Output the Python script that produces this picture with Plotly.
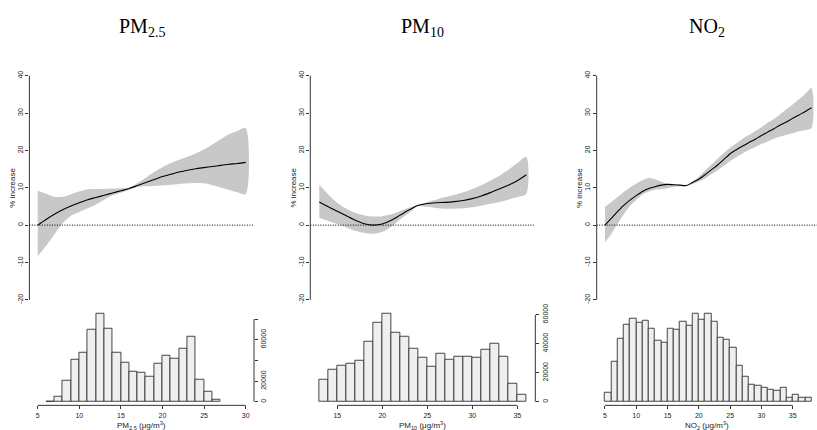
import plotly.graph_objects as go

# ---------------- data ----------------
# exposure-response curves (% increase) with 95% CI
pm25_x = list(range(5, 31))
pm25_fit = [0.0, 1.5, 2.9, 4.1, 5.1, 6.0, 6.8, 7.4, 8.0, 8.6, 9.2, 9.8, 10.6, 11.4, 12.2,
            13.0, 13.6, 14.2, 14.7, 15.1, 15.4, 15.7, 16.0, 16.3, 16.5, 16.8]
pm25_hi = [9.2, 8.4, 7.6, 7.6, 8.3, 9.0, 9.6, 9.7, 9.7, 9.8, 9.9, 10.1, 11.3, 12.7, 14.2,
           15.5, 16.6, 17.5, 18.3, 19.2, 20.3, 21.6, 23.0, 24.3, 25.2, 26.0]
pm25_lo = [-8.3, -5.5, -2.5, 0.5, 2.5, 3.5, 4.5, 5.5, 6.8, 8.0, 8.7, 9.5, 10.2, 10.4, 10.5,
           10.6, 10.8, 11.0, 11.2, 11.3, 11.2, 10.7, 10.1, 9.4, 8.8, 8.3]

pm10_x = list(range(13, 37))
pm10_fit = [6.2, 4.9, 3.7, 2.5, 1.3, 0.35, 0.0, 0.3, 1.3, 2.7, 4.1, 5.3, 5.8, 6.0, 6.1, 6.3,
            6.6, 7.1, 7.8, 8.7, 9.7, 10.7, 11.9, 13.5]
pm10_hi = [10.8, 8.2, 6.0, 4.4, 3.3, 2.6, 2.3, 2.4, 2.9, 3.8, 4.7, 5.4, 6.2, 6.8, 7.5, 8.1,
           8.8, 9.7, 10.7, 11.9, 13.2, 14.8, 16.6, 18.3]
pm10_lo = [2.0, 1.1, 0.3, -0.6, -1.5, -2.1, -2.3, -1.8, -0.4, 1.6, 3.3, 5.1, 4.9, 4.6, 4.4, 4.4,
           4.5, 4.8, 5.2, 5.7, 6.2, 6.8, 7.5, 8.4]

no2_x = list(range(5, 39))
no2_fit = [0.0, 1.8, 3.6, 5.3, 6.7, 7.9, 9.0, 9.8, 10.3, 10.7, 10.9, 10.8, 10.7, 10.6, 11.4,
           12.3, 13.5, 14.8, 16.1, 17.6, 19.1, 20.2, 21.2, 22.1, 23.0, 24.0, 24.9, 25.8,
           26.8, 27.6, 28.6, 29.5, 30.4, 31.4]
no2_hi = [4.9, 6.1, 7.5, 8.9, 10.1, 11.1, 12.0, 12.6, 12.3, 11.6, 11.1, 11.0, 10.8, 10.7,
          11.7, 13.0, 14.6, 16.2, 17.8, 19.3, 20.7, 21.9, 23.1, 24.1, 25.2, 26.2, 27.4,
          28.4, 29.7, 31.0, 32.3, 33.7, 35.1, 36.7]
no2_lo = [-4.6, -2.4, 0.3, 2.9, 5.1, 6.8, 8.2, 9.0, 9.5, 9.7, 9.9, 10.2, 10.4, 10.5, 11.0,
          11.7, 12.5, 13.6, 14.7, 15.9, 17.2, 18.2, 19.2, 20.1, 20.9, 21.7, 22.4, 23.1,
          23.7, 24.2, 24.6, 25.1, 25.4, 26.0]

# histograms (bin width 1), first bin left edge and counts
pm25_bin_start = 6
pm25_counts = [500, 5000, 20800, 40400, 47000, 70000, 85600, 71000, 47800, 38000, 28800,
               27900, 24700, 37200, 44600, 41700, 51600, 63100, 21500, 9300, 1600]
pm10_bin_start = 13
pm10_counts = [15500, 22300, 25000, 26400, 28200, 41200, 54200, 61000, 47800, 45100, 36400,
               30300, 24100, 33000, 29200, 30800, 30800, 30100, 36000, 40300, 31200, 12300, 4600]
no2_bin_start = 5
no2_counts = [4700, 21800, 34400, 41900, 45200, 43200, 44100, 39600, 33500, 31900, 40000,
              39200, 43700, 41400, 48200, 44600, 48200, 43700, 34700, 33700, 29200, 19800,
              13900, 9200, 8800, 7600, 6500, 5900, 7700, 2500, 3600, 2300, 2500]

# tick labels
effect_ticks = [-20, -10, 0, 10, 20, 30, 40]
pm25_xticks = [5, 10, 15, 20, 25, 30]
pm10_xticks = [15, 20, 25, 30, 35]
no2_xticks = [5, 10, 15, 20, 25, 30, 35]
pm25_countlabels = [0, 20000, 60000]
pm25_countminor = [40000, 80000]
pm10_countlabels = [0, 20000, 40000, 60000]
pm10_countminor = []

titles = ["PM<sub>2.5</sub>", "PM<sub>10</sub>", "NO<sub>2</sub>"]
xlabels = ["PM<sub>2.5</sub> (μg/m<sup>3</sup>)", "PM<sub>10</sub> (μg/m<sup>3</sup>)",
           "NO<sub>2</sub> (μg/m<sup>3</sup>)"]

# ---------------- layout geometry ----------------
W, H = 817, 430
SANS = "Liberation Sans Narrow, Liberation Sans, Arial, sans-serif"
SERIF = "Liberation Serif, Times New Roman, serif"
AX = "#333333"

panels = [
    dict(x=pm25_x, fit=pm25_fit, hi=pm25_hi, lo=pm25_lo, b0=pm25_bin_start, cnt=pm25_counts,
         xt=pm25_xticks, xr=[4, 31], px=(29.4, 254.0), yt=pm25_countlabels, ym=pm25_countminor),
    dict(x=pm10_x, fit=pm10_fit, hi=pm10_hi, lo=pm10_lo, b0=pm10_bin_start, cnt=pm10_counts,
         xt=pm10_xticks, xr=[12, 37], px=(310.3, 535.3), yt=pm10_countlabels, ym=pm10_countminor),
    dict(x=no2_x, fit=no2_fit, hi=no2_hi, lo=no2_lo, b0=no2_bin_start, cnt=no2_counts,
         xt=no2_xticks, xr=[3.68, 38.88], px=(596.7, 817.0), yt=None, ym=None),
]

top_dom = [1 - 307.1 / H, 1 - 61.6 / H]
hist_dom = [1 - 405 / H, 1 - 308 / H]

fig = go.Figure()
layout = dict(width=W, height=H, margin=dict(l=0, r=0, t=0, b=0),
              paper_bgcolor="white", plot_bgcolor="white", showlegend=False,
              font=dict(family=SANS, size=7, color="#222"))
shapes, annots = [], []

for i, p in enumerate(panels):
    t = i + 1          # top panel axis index
    h = i + 4          # histogram axis index
    xt_name = "x" if t == 1 else f"x{t}"
    yt_name = "y" if t == 1 else f"y{t}"
    xh_name, yh_name = f"x{h}", f"y{h}"
    dom = [min(p["px"][0] / W, 1), min(p["px"][1] / W, 1)]

    # confidence band
    fig.add_trace(go.Scatter(x=p["x"] + p["x"][::-1], y=p["hi"] + p["lo"][::-1],
                             fill="toself", fillcolor="#c8c8c8", mode="none",
                             line=dict(shape="spline", smoothing=0.8),
                             xaxis=xt_name, yaxis=yt_name, hoverinfo="skip"))
    # fitted curve
    fig.add_trace(go.Scatter(x=p["x"], y=p["fit"], mode="lines",
                             line=dict(color="black", width=1.1, shape="spline", smoothing=0.8),
                             xaxis=xt_name, yaxis=yt_name))
    # histogram
    centers = [p["b0"] + k + 0.5 for k in range(len(p["cnt"]))]
    fig.add_trace(go.Bar(x=centers, y=p["cnt"], width=1.0,
                         marker=dict(color="#efefef", line=dict(color="#333333", width=0.9)),
                         xaxis=xh_name, yaxis=yh_name))

    cmax = max(p["cnt"])
    kx = "xaxis" if t == 1 else f"xaxis{t}"
    ky = "yaxis" if t == 1 else f"yaxis{t}"
    layout[kx] = dict(domain=dom, range=p["xr"], visible=False, anchor=yt_name)
    layout[ky] = dict(domain=top_dom, range=[-22.4, 42.4], anchor=xt_name,
                      tickvals=effect_ticks, ticktext=[str(v) for v in effect_ticks],
                      ticks="outside", ticklen=3, tickwidth=1,
                      tickcolor=AX, showline=False, showgrid=False, zeroline=False,
                      tickangle=-90, tickfont=dict(size=7, family=SANS))
    layout[f"xaxis{h}"] = dict(domain=dom, range=p["xr"], anchor=yh_name,
                               tickvals=p["xt"], ticktext=[str(v) for v in p["xt"]],
                               ticks="outside", ticklen=3, tickwidth=1,
                               tickcolor=AX, showline=False, showgrid=False, zeroline=False,
                               tickfont=dict(size=7, family=SANS))
    ydict = dict(domain=hist_dom, range=[-0.04 * cmax, 1.04 * cmax], anchor=xh_name,
                 side="right", showgrid=False, zeroline=False, showline=False)
    if p["yt"] is not None:
        ydict.update(tickvals=p["yt"], ticktext=[str(v) for v in p["yt"]],
                     ticks="outside", ticklen=3,
                     tickwidth=1, tickcolor=AX, tickangle=-90,
                     tickfont=dict(size=7, family=SANS))
        if p["ym"]:
            ydict["minor"] = dict(tickvals=p["ym"], ticks="outside", ticklen=3,
                                  tickwidth=1, tickcolor=AX, showgrid=False)
        alltk = p["yt"] + p["ym"]
        shapes.append(dict(type="line", xref=f"{xh_name} domain", yref=yh_name,
                           x0=1, x1=1, y0=min(alltk), y1=max(alltk),
                           line=dict(color=AX, width=1)))
    else:
        ydict.update(showticklabels=False, ticks="")
    layout[f"yaxis{h}"] = ydict

    # axis lines spanning first..last tick (R style)
    shapes.append(dict(type="line", xref=f"{xt_name} domain", yref=yt_name,
                       x0=0, x1=0, y0=effect_ticks[0], y1=effect_ticks[-1],
                       line=dict(color=AX, width=1)))
    shapes.append(dict(type="line", xref=xh_name, yref=f"{yh_name} domain",
                       x0=p["xt"][0], x1=p["xt"][-1], y0=0, y1=0,
                       line=dict(color=AX, width=1)))
    # dotted reference line at 0
    shapes.append(dict(type="line", xref=f"{xt_name} domain", yref=yt_name,
                       x0=0, x1=1, y0=0, y1=0,
                       line=dict(color="black", width=1, dash="1px,1.5px")))

    # y-axis title
    annots.append(dict(text="% increase", xref=f"{xt_name} domain", yref=f"{yt_name} domain",
                       x=0, y=0.5, xshift=-16.5, xanchor="center", yanchor="middle",
                       textangle=-90, showarrow=False, font=dict(size=8, family=SANS)))
    # x-axis title under histogram
    annots.append(dict(text=xlabels[i], xref=f"{xh_name} domain", yref="paper",
                       x=0.5, y=5 / H, yanchor="middle", xanchor="center",
                       showarrow=False, font=dict(size=8, family=SANS)))
    # panel title
    annots.append(dict(text=titles[i], xref=f"{xh_name} domain", yref="paper",
                       x=0.5, y=1 - 22 / H, yanchor="middle", xanchor="center",
                       showarrow=False, font=dict(size=20, family=SERIF, color="black")))

layout["shapes"] = shapes
layout["annotations"] = annots
layout["bargap"] = 0
fig.update_layout(**layout)
fig.write_html("out.html", config={"displayModeBar": False},
               post_script="document.body.style.margin='0px';")
